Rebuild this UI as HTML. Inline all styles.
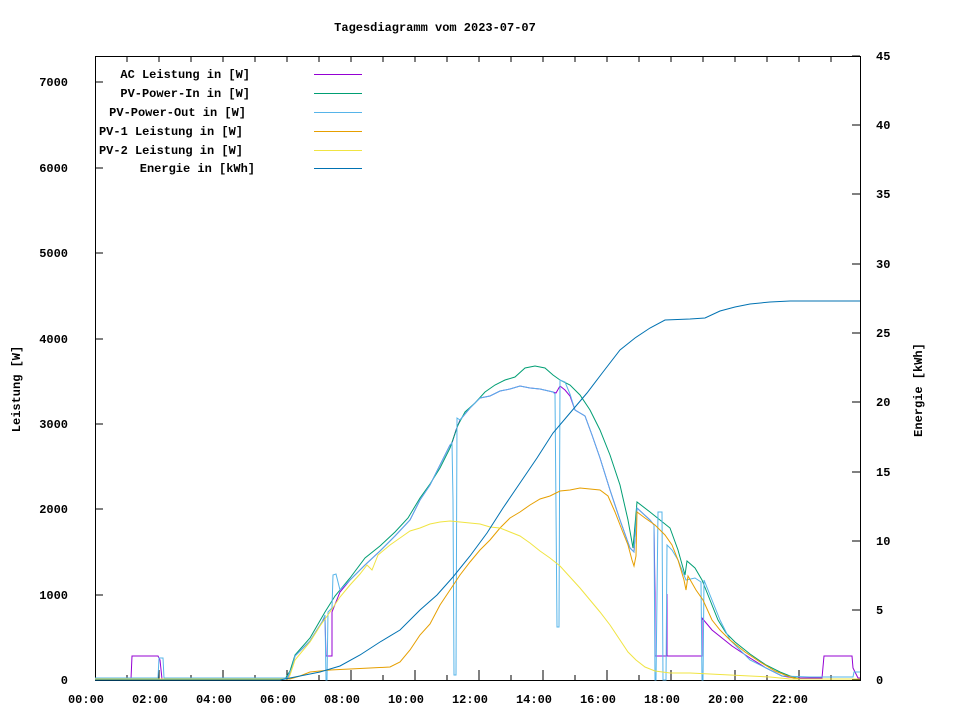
<!DOCTYPE html>
<html><head><meta charset="utf-8"><style>
html,body{margin:0;padding:0;background:#fff;}
svg{display:block;}
text{font-family:"Liberation Mono","DejaVu Sans Mono",monospace;font-size:12px;font-weight:bold;fill:#000;}
.l{fill:none;stroke-width:1;}
</style></head><body>
<svg width="960" height="720" viewBox="0 0 960 720" xmlns="http://www.w3.org/2000/svg">
<rect width="960" height="720" fill="#fff"/>
<text x="435" y="31" text-anchor="middle">Tagesdiagramm vom 2023-07-07</text>
<rect x="95.5" y="56.5" width="765" height="624" fill="none" stroke="#000"/>
<g stroke="#000">
<path d="M95 680h8M95 595h8M95 509h8M95 424h8M95 339h8M95 253h8M95 168h8M95 82h8"/>
<path d="M860 680h-8M860 610h-8M860 541h-8M860 472h-8M860 402h-8M860 333h-8M860 264h-8M860 194h-8M860 125h-8M860 56h-8"/>
<path d="M127 680v-5M159 680v-5M191 680v-5M223 680v-5M255 680v-5M287 680v-5M319 680v-5M351 680v-5M383 680v-5M415 680v-5M447 680v-5M479 680v-5M511 680v-5M543 680v-5M575 680v-5M607 680v-5M639 680v-5M671 680v-5M703 680v-5M735 680v-5M767 680v-5M799 680v-5M831 680v-5"/>
<path d="M127 57v5M159 57v5M191 57v5M223 57v5M255 57v5M287 57v5M319 57v5M351 57v5M383 57v5M415 57v5M447 57v5M479 57v5M511 57v5M543 57v5M575 57v5M607 57v5M639 57v5M671 57v5M703 57v5M735 57v5M767 57v5M799 57v5M831 57v5"/>
<path d="M159 680v-10M223 680v-10M287 680v-10M351 680v-10M415 680v-10M479 680v-10M543 680v-10M607 680v-10M671 680v-10M735 680v-10M799 680v-10"/>
</g>
<g text-anchor="end">
<text x="68" y="684">0</text><text x="68" y="599">1000</text><text x="68" y="513">2000</text><text x="68" y="428">3000</text><text x="68" y="343">4000</text><text x="68" y="257">5000</text><text x="68" y="172">6000</text><text x="68" y="86">7000</text>
</g>
<g>
<text x="876" y="684">0</text><text x="876" y="614">5</text><text x="876" y="545">10</text><text x="876" y="476">15</text><text x="876" y="406">20</text><text x="876" y="337">25</text><text x="876" y="268">30</text><text x="876" y="198">35</text><text x="876" y="129">40</text><text x="876" y="60">45</text>
</g>
<g text-anchor="middle">
<text x="86" y="703">00:00</text><text x="150" y="703">02:00</text><text x="214" y="703">04:00</text><text x="278" y="703">06:00</text><text x="342" y="703">08:00</text><text x="406" y="703">10:00</text><text x="470" y="703">12:00</text><text x="534" y="703">14:00</text><text x="598" y="703">16:00</text><text x="662" y="703">18:00</text><text x="726" y="703">20:00</text><text x="790" y="703">22:00</text>
</g>
<text transform="translate(20,389) rotate(-90)" text-anchor="middle">Leistung [W]</text>
<text transform="translate(922,390) rotate(-90)" text-anchor="middle">Energie [kWh]</text>
<g text-anchor="end">
<text x="250" y="78">AC Leistung in [W]</text>
<text x="250" y="97">PV-Power-In in [W]</text>
<text x="246" y="116">PV-Power-Out in [W]</text>
<text x="243" y="135">PV-1 Leistung in [W]</text>
<text x="243" y="154">PV-2 Leistung in [W]</text>
<text x="255" y="172">Energie in [kWh]</text>
</g>
<path class="l" stroke="#9400d3" d="M314 74.5h48"/>
<path class="l" stroke="#009e73" d="M314 93.5h48"/>
<path class="l" stroke="#56b4e9" d="M314 112.5h48"/>
<path class="l" stroke="#e69f00" d="M314 131.5h48"/>
<path class="l" stroke="#f0e442" d="M314 150.5h48"/>
<path class="l" stroke="#0072b2" d="M314 168.5h48"/>

<!-- AC -->
<polyline class="l" stroke="#9400d3" points="95,679 131,679 132,656 158,656 160,660 162,679 287,679 292,668 295,656 310,641 322,622 325,618 326,656 332,656 332,612 340,592 350,580 365,565 380,551 395,536 410,520 420,500 430,485 440,465 450,445 452,443 456,430 460,420 470,408 480,398 490,396 500,391 510,389 520,386 530,388 540,389 553,392 556,393 560,386 565,390 570,396 575,410 585,416 592,435 600,458 610,490 620,520 630,548 634,552 637,508 650,520 654,525 655,593 655,656 667,656 667,594 667,656 702,656 702,618 712,630 722,638 732,646 750,658 766,668 782,676 795,678 822,678 824,656 852,656 853,668 858,678 860,678"/>
<!-- PV-In -->
<polyline class="l" stroke="#009e73" points="95,679 285,679 290,671 295,655 310,638 325,612 335,596 350,578 365,558 380,546 395,532 408,518 420,498 430,484 440,468 450,448 458,425 465,412 475,403 485,392 495,385 505,380 515,377 525,368 535,366 545,368 553,375 560,380 570,385 580,395 590,410 600,430 610,455 620,485 628,520 633,548 637,502 650,512 660,520 670,528 678,550 685,575 687,561 695,568 702,580 710,600 718,620 726,633 735,642 750,654 766,665 780,672 790,676 800,679 860,679"/>
<!-- PV-Out -->
<polyline class="l" stroke="#56b4e9" points="95,678 158,678 159,658 163,658 164,678 287,678 292,668 295,656 310,641 322,622 325,615 326,680 327,680 328,612 332,608 333,575 336,574 340,590 350,580 365,565 380,551 395,536 410,520 420,500 430,485 440,465 450,445 452,443 453,500 454,675 456,675 457,418 460,420 470,408 480,398 490,396 500,391 510,389 520,386 530,388 540,389 553,392 555,394 557,627 559,627 560,380 565,382 570,394 575,410 585,416 592,435 600,458 610,490 620,520 630,548 634,552 637,508 650,520 654,525 655,680 656,680 658,512 662,512 663,680 666,680 667,545 672,550 678,560 686,580 695,578 701,582 702,680 703,680 704,580 712,600 720,620 730,640 740,650 750,660 766,668 782,676 810,677 824,677 853,677 854,672 860,672"/>
<!-- PV-1 -->
<polyline class="l" stroke="#e69f00" points="95,679 290,679 300,676 310,672 330,670 350,669 370,668 390,667 400,662 410,650 420,635 430,624 440,605 450,590 460,575 470,562 480,550 490,540 500,528 510,518 520,512 530,505 540,499 550,496 560,491 570,490 580,488 590,489 600,490 608,496 615,512 622,530 628,545 632,560 634,566 636,556 637,512 645,518 655,525 665,535 672,545 678,560 684,580 686,590 688,576 696,590 703,600 712,620 720,630 730,640 745,652 760,662 775,671 790,677 800,679 860,679"/>
<!-- PV-2 -->
<polyline class="l" stroke="#f0e442" points="95,679 288,679 290,675 295,660 310,642 320,626 330,612 340,597 350,585 360,574 367,565 372,570 378,555 390,545 400,538 410,531 420,528 430,524 440,522 450,521 460,522 470,523 480,524 490,527 500,528 510,532 520,536 530,543 540,551 550,558 560,566 570,577 580,588 590,600 600,612 610,625 620,640 628,652 636,660 645,667 655,671 670,673 690,673 710,674 730,675 750,676 770,677 790,679 860,679"/>
<!-- Energie -->
<polyline class="l" stroke="#0072b2" points="95,680 280,680 300,676 320,672 340,666 360,655 380,642 400,630 420,610 437,595 453,577 470,556 487,533 503,508 520,483 537,458 553,433 570,413 587,393 603,372 620,350 635,338 650,328 665,320 690,319 705,318 720,311 735,307 750,304 770,302 790,301 820,301 860,301"/>
</svg>
</body></html>
